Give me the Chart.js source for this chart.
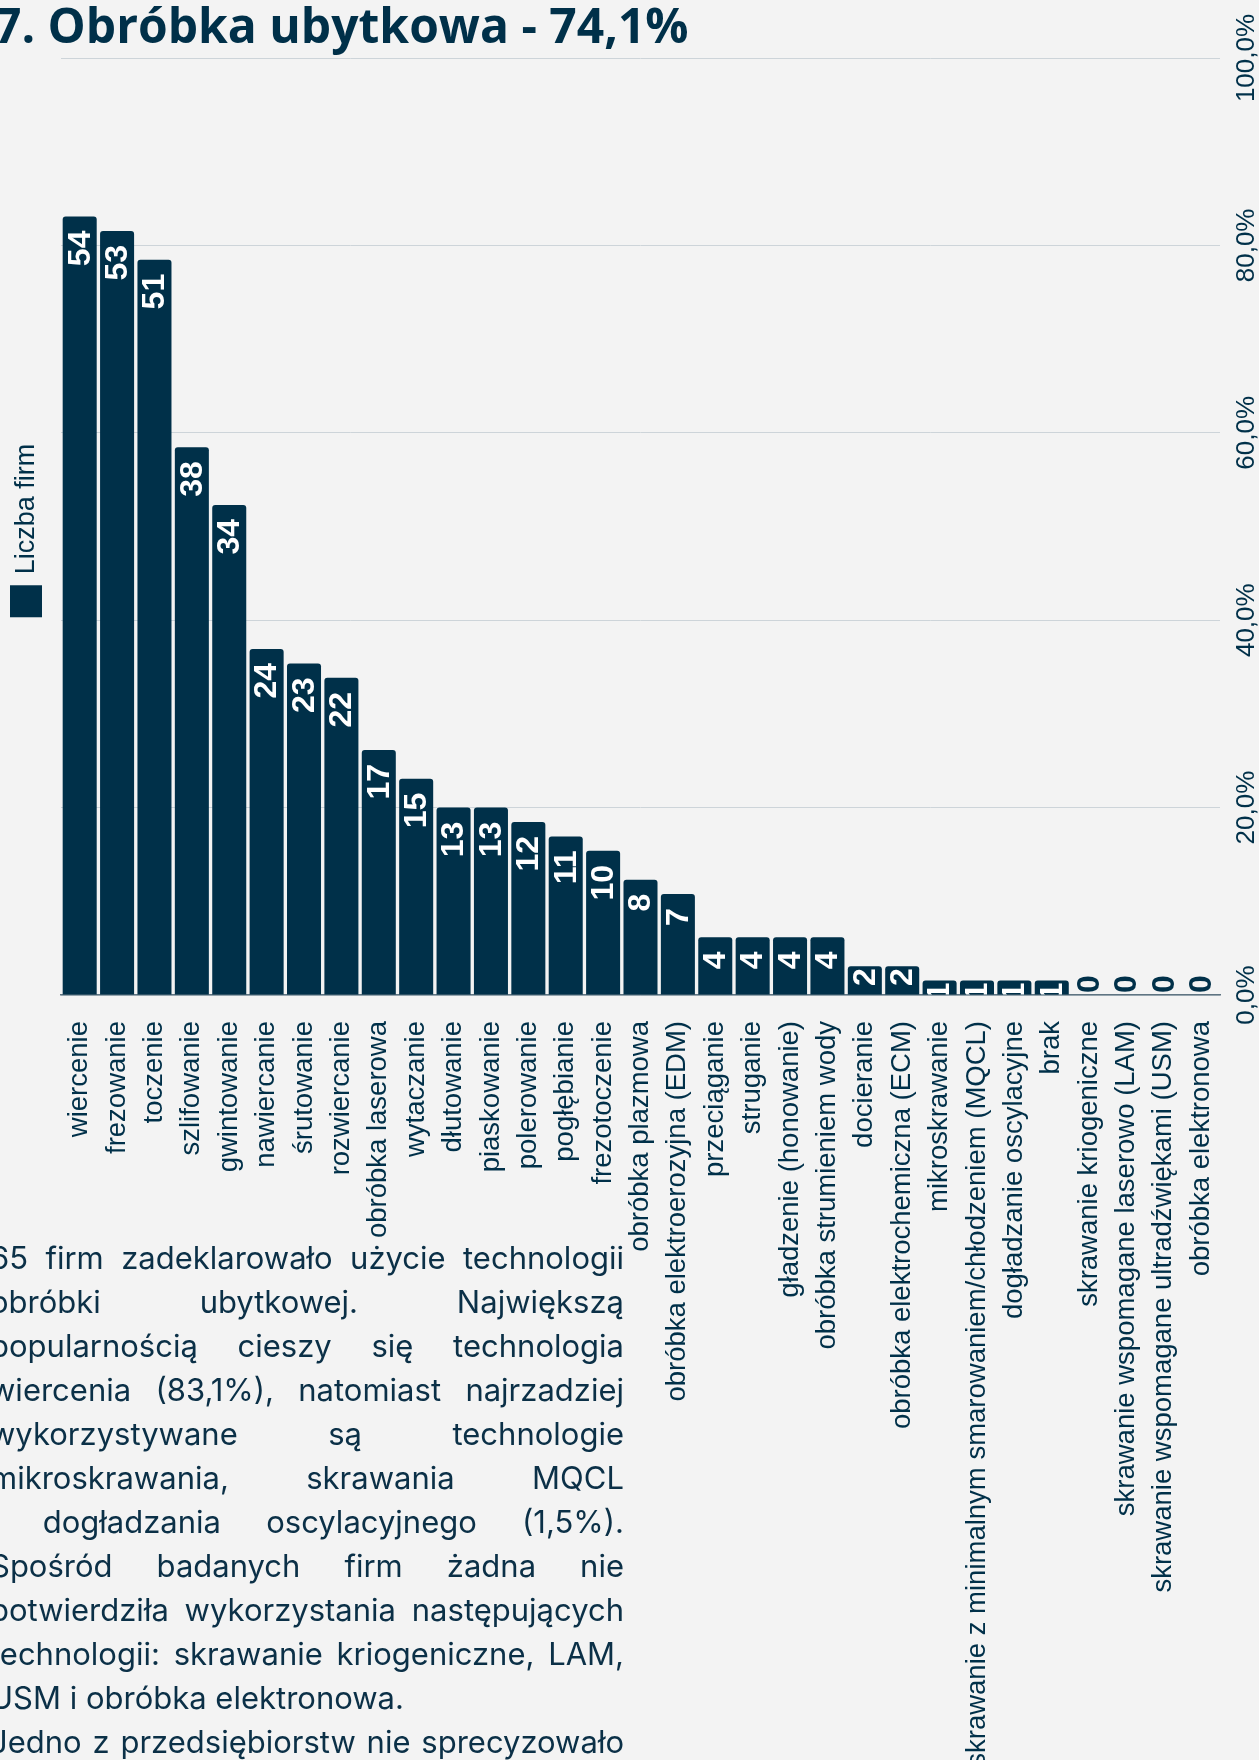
<!DOCTYPE html>
<html lang="pl">
<head>
<meta charset="utf-8">
<title>Obróbka ubytkowa</title>
<script src="https://cdn.jsdelivr.net/npm/chart.js@4/dist/chart.umd.min.js"></script>
<style>
  html,body{margin:0;padding:0;background:#f3f3f3;}
  body{width:1259px;height:1760px;position:relative;overflow:hidden;}
  #chart{position:absolute;left:0;top:0;}
  h1{position:absolute;left:-6px;top:1px;margin:0;font:700 48px/47px "Open Sans",sans-serif;color:#003049;white-space:nowrap;}
  .txt{position:absolute;left:-10px;top:1236px;width:634px;font:400 31px/44px Inter,sans-serif;color:#0b3047;}
  .txt div{white-space:nowrap;text-align:justify;text-align-last:justify;}
  .txt div.last{text-align-last:left;}
</style>
</head>
<body>
<canvas id="chart" width="1259" height="1760"></canvas>
<h1>7. Obróbka ubytkowa - 74,1%</h1>
<div class="txt">
  <div>65 firm zadeklarowało użycie technologii</div>
  <div>obróbki ubytkowej. Największą</div>
  <div>popularnością cieszy się technologia</div>
  <div>wiercenia (83,1%), natomiast najrzadziej</div>
  <div>wykorzystywane są technologie</div>
  <div>mikroskrawania, skrawania MQCL</div>
  <div>i dogładzania oscylacyjnego (1,5%).</div>
  <div>Spośród badanych firm żadna nie</div>
  <div>potwierdziła wykorzystania następujących</div>
  <div>technologii: skrawanie kriogeniczne, LAM,</div>
  <div class="last">USM i obróbka elektronowa.</div>
  <div>Jedno z przedsiębiorstw nie sprecyzowało</div>
</div>
<script>
var technologies = [
  'wiercenie','frezowanie','toczenie','szlifowanie','gwintowanie','nawiercanie',
  'śrutowanie','rozwiercanie','obróbka laserowa','wytaczanie','dłutowanie',
  'piaskowanie','polerowanie','pogłębianie','frezotoczenie','obróbka plazmowa',
  'obróbka elektroerozyjna (EDM)','przeciąganie','struganie','gładzenie (honowanie)',
  'obróbka strumieniem wody','docieranie','obróbka elektrochemiczna (ECM)',
  'mikroskrawanie','skrawanie z minimalnym smarowaniem/chłodzeniem (MQCL)',
  'dogładzanie oscylacyjne','brak','skrawanie kriogeniczne',
  'skrawanie wspomagane laserowo (LAM)','skrawanie wspomagane ultradźwiękami (USM)',
  'obróbka elektronowa'
];
var firmCounts = [54,53,51,38,34,24,23,22,17,15,13,13,12,11,10,8,7,4,4,4,4,2,2,1,1,1,1,0,0,0,0];
var totalFirms = 65;
var seriesName = 'Liczba firm';

var NAVY = '#003049';
var share = firmCounts.map(function(v){ return v / totalFirms * 100; });

// legend drawn vertically on the left side
var sideLegend = {
  id: 'sideLegend',
  afterDraw: function(chart){
    var ctx = chart.ctx, a = chart.chartArea;
    var ds = chart.data.datasets[0];
    ctx.save();
    ctx.font = '27px "Liberation Sans", Arial, sans-serif';
    var tw = ctx.measureText(ds.label).width;
    var box = 32, gap = 11, total = box + gap + tw;
    var cx = 26, bottom = (a.top + a.bottom) / 2 + total / 2 + 4;
    ctx.fillStyle = ds.backgroundColor;
    ctx.fillRect(cx - box / 2, bottom - box, box, box);
    ctx.translate(cx + 1, bottom - box - gap);
    ctx.rotate(-Math.PI / 2);
    ctx.fillStyle = NAVY;
    ctx.textAlign = 'left';
    ctx.textBaseline = 'middle';
    ctx.fillText(ds.label, 0, 0);
    ctx.restore();
  }
};

// count labels inside the bars, reading upward
var countLabels = {
  id: 'countLabels',
  afterDatasetsDraw: function(chart){
    var ctx = chart.ctx;
    var meta = chart.getDatasetMeta(0);
    meta.data.forEach(function(bar, i){
      var v = firmCounts[i];
      var p = bar.getProps(['x','y','base','width'], true);
      ctx.save();
      ctx.font = 'bold 32px "Liberation Sans", Arial, sans-serif';
      var len = ctx.measureText(String(v)).width;
      var yEnd;
      if (v === 0) {
        yEnd = p.base - len - 2;
        ctx.fillStyle = NAVY;
      } else {
        yEnd = (p.base - p.y >= len + 18) ? p.y + 14 : p.y + 2;
        ctx.beginPath();
        ctx.rect(p.x - p.width / 2, p.y, p.width, p.base - p.y);
        ctx.clip();
        ctx.fillStyle = '#ffffff';
      }
      ctx.translate(p.x + 1, yEnd);
      ctx.rotate(-Math.PI / 2);
      ctx.textAlign = 'right';
      ctx.textBaseline = 'middle';
      ctx.fillText(String(v), 0, 0);
      ctx.restore();
    });
  }
};

new Chart(document.getElementById('chart').getContext('2d'), {
  type: 'bar',
  data: {
    labels: technologies,
    datasets: [{
      label: seriesName,
      data: share,
      backgroundColor: NAVY,
      borderRadius: 3,
      barPercentage: 0.91,
      categoryPercentage: 1.0
    }]
  },
  options: {
    responsive: false,
    animation: false,
    layout: {padding: {left: 61, top: 58, right: 0, bottom: 0}},
    plugins: {legend: {display: false}, tooltip: {enabled: false}},
    scales: {
      x: {
        grid: {display: false},
        border: {display: true, color: '#5f7482', width: 1.5},
        ticks: {
          autoSkip: false, minRotation: 90, maxRotation: 90, padding: 18,
          color: NAVY, font: {family: '"Liberation Sans", Arial, sans-serif', size: 27.5}
        },
        afterFit: function(s){ s.height = 765; }
      },
      y: {
        position: 'right',
        min: 0, max: 100,
        grid: {color: '#cdd4d9', lineWidth: 1, drawTicks: false},
        border: {display: false},
        ticks: {
          stepSize: 20, minRotation: 90, maxRotation: 90, crossAlign: 'center', padding: -17,
          color: NAVY, font: {family: '"Liberation Sans", Arial, sans-serif', size: 26},
          callback: function(v){ return v.toFixed(1).replace('.', ',') + '%'; }
        },
        afterFit: function(s){ s.width = 39; }
      }
    }
  },
  plugins: [sideLegend, countLabels]
});
</script>
</body>
</html>
